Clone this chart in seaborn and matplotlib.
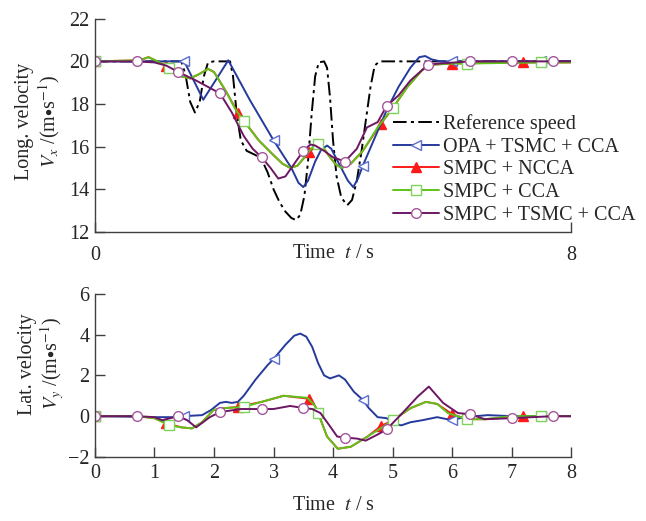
import matplotlib
matplotlib.use('Agg')
import matplotlib.pyplot as plt
from matplotlib.lines import Line2D
import seaborn as sns

# ---- top panel: longitudinal velocity (m/s) ----
ref_t = [0, 1.45, 1.52, 1.6, 1.68, 1.76, 1.83, 1.9, 2.0, 2.27, 2.32, 2.38, 2.45, 2.55, 2.7, 2.8,
         2.9, 3.0, 3.1, 3.2, 3.3, 3.38, 3.45, 3.52, 3.58, 3.64, 3.7, 3.76, 3.85, 3.9, 3.95, 4.0,
         4.06, 4.14, 4.24, 4.32, 4.4, 4.48, 4.56, 4.63, 4.7, 4.78, 8]
ref_vx = [20, 20, 19.4, 18.1, 17.6, 18.1, 19.3, 19.95, 20, 20, 19.3, 17.6, 16.3, 15.8, 15.6, 15.4,
          14.8, 14.0, 13.4, 12.95, 12.65, 12.55, 12.8, 13.7, 15.3, 17.5, 19.3, 19.95, 20, 19.7, 18.3, 16.3,
          14.6, 13.6, 13.25, 13.5, 14.4, 15.8, 17.4, 18.8, 19.8, 20, 20]

opa_t = [0, 1.5, 1.82, 2.24, 2.6, 3.0, 3.3, 3.42, 3.5, 3.58, 3.7, 3.8, 3.9, 3.97, 4.1, 4.25, 4.34,
         4.42, 4.5, 4.7, 4.9, 5.1, 5.3, 5.45, 5.55, 5.65, 5.8, 6.0, 7.5, 8]
opa_vx = [20, 20, 18.2, 20.05, 18.2, 16.3, 15.0, 14.3, 14.1, 14.4, 15.3, 15.85, 16.05, 15.9, 15.2, 14.4, 14.1,
          14.5, 15.1, 16.4, 17.7, 18.8, 19.7, 20.2, 20.25, 20.1, 20.0, 20.0, 20.0, 20.0]

ncca_t = [0, 0.75, 0.9, 1.05, 1.2, 1.45, 1.6, 1.75, 1.9, 2.0, 2.2, 2.4, 2.75, 3.0, 3.15, 3.28, 3.4,
          3.6, 3.75, 3.85, 3.95, 4.05, 4.15, 4.3, 4.5, 4.8, 5.0, 5.25, 5.5, 5.7, 6.0, 7.2, 8]
ncca_vx = [20, 20.05, 20.2, 20.0, 19.8, 19.3, 19.2, 19.4, 19.65, 19.5, 18.6, 17.6, 16.3, 15.6, 15.2, 15.0, 15.1,
           15.75, 16.1, 15.9, 15.5, 15.15, 15.0, 15.2, 15.8, 17.05, 17.8, 18.8, 19.6, 19.85, 19.9, 19.95, 19.95]

cca_t = [0, 0.75, 0.9, 1.05, 1.25, 1.45, 1.6, 1.75, 1.9, 2.0, 2.2, 2.35, 2.5, 2.75, 3.0, 3.15, 3.28,
         3.4, 3.55, 3.68, 3.75, 3.85, 3.95, 4.05, 4.15, 4.3, 4.5, 4.75, 5.0, 5.25, 5.5, 5.7, 6.0,
         6.25, 7.5, 8]
cca_vx = [20, 20.05, 20.2, 20.0, 19.7, 19.3, 19.2, 19.4, 19.65, 19.5, 18.6, 17.8, 17.2, 16.3, 15.6, 15.2, 15.0,
          15.1, 15.6, 16.05, 16.1, 15.9, 15.5, 15.15, 15.0, 15.2, 15.8, 16.9, 17.8, 18.8, 19.6, 19.85, 19.9,
          19.9, 19.95, 19.95]

tsmc_t = [0, 0.7, 1.0, 1.2, 1.4, 1.7, 2.1, 2.3, 2.5, 2.65, 2.8, 2.95, 3.08, 3.2, 3.35, 3.5, 3.62,
          3.7, 3.85, 4.0, 4.2, 4.4, 4.57, 4.75, 4.9, 5.1, 5.3, 5.6, 5.8, 6.3, 7.0, 7.7, 8]
tsmc_vx = [20, 20, 19.95, 19.8, 19.5, 19.1, 18.5, 17.6, 16.5, 15.9, 15.5, 15.0, 14.5, 14.6, 15.2, 15.8, 16.1,
           16.05, 15.8, 15.5, 15.3, 15.9, 16.9, 17.15, 17.9, 18.4, 19.1, 19.85, 19.9, 20.0, 20.0, 20.0, 20.0]

# ---- bottom panel: lateral velocity (m/s) ----
opa_lt = [0, 0.5, 1.0, 1.3, 1.5, 1.8, 1.95, 2.1, 2.2, 2.3, 2.4, 2.5, 2.7, 2.9, 3.0, 3.2, 3.35, 3.45,
          3.55, 3.65, 3.75, 3.85, 3.95, 4.1, 4.2, 4.35, 4.5, 4.6, 4.75, 4.9, 5.05, 5.15, 5.3, 5.5,
          5.75, 6.0, 6.2, 6.6, 7.0, 7.5, 8]
opa_vy = [0, -0.02, -0.05, -0.05, 0.0, 0.05, 0.3, 0.65, 0.7, 0.65, 0.7, 1.0, 1.8, 2.5, 2.8, 3.5, 3.95, 4.05,
          3.9, 3.4, 2.6, 2.0, 1.85, 2.0, 1.8, 1.2, 0.8, 0.4, -0.05, -0.1, -0.4, -0.45, -0.3, -0.2,
          -0.05, -0.2, -0.05, 0.05, 0.0, 0.0, 0.0]

ncca_lt = [0, 0.7, 1.0, 1.2, 1.45, 1.63, 1.8, 1.99, 2.2, 2.4, 2.8, 3.17, 3.6, 3.7, 3.75, 3.9, 4.08,
           4.3, 4.58, 4.8, 5.0, 5.31, 5.56, 5.75, 6.0, 6.25, 6.55, 7.2, 8]
ncca_vy = [0, 0.0, -0.1, -0.35, -0.55, -0.6, -0.3, 0.3, 0.4, 0.45, 0.7, 1.0, 0.85, 0.5, 0.15, -1.0, -1.6,
           -1.5, -1.0, -0.5, -0.2, 0.4, 0.7, 0.6, 0.1, -0.15, -0.15, 0.0, 0.0]

cca_lt = [0, 0.7, 1.0, 1.25, 1.45, 1.63, 1.8, 1.99, 2.2, 2.5, 2.8, 3.17, 3.57, 3.7, 3.75, 3.9, 4.08,
          4.3, 4.58, 4.8, 5.0, 5.31, 5.56, 5.75, 5.93, 6.25, 6.55, 7.0, 7.5, 8]
cca_vy = [0, 0.0, -0.1, -0.45, -0.55, -0.6, -0.3, 0.3, 0.4, 0.45, 0.7, 1.0, 0.9, 0.5, 0.15, -1.0, -1.6,
          -1.5, -1.0, -0.6, -0.2, 0.4, 0.7, 0.6, 0.15, -0.15, -0.15, 0.0, 0.0, 0.0]

tsmc_lt = [0, 0.7, 1.0, 1.13, 1.4, 1.55, 1.7, 1.93, 2.1, 2.45, 2.8, 3.0, 3.28, 3.5, 3.65, 3.79, 3.95,
           4.07, 4.2, 4.4, 4.55, 4.75, 4.9, 5.15, 5.42, 5.61, 5.85, 6.1, 6.3, 6.55, 7.0, 7.7, 8]
tsmc_vy = [0, 0.0, -0.05, -0.2, 0.0, -0.2, -0.55, -0.05, 0.2, 0.35, 0.35, 0.35, 0.5, 0.4, 0.35, 0.15, -0.5,
           -1.0, -1.05, -1.1, -1.2, -0.9, -0.65, 0.1, 0.95, 1.45, 0.65, 0.15, 0.1, -0.15, -0.1, 0.0, 0.0]

# marker times for each controller
opa_marks = [0, 1.5, 3.0, 4.5, 6.0, 7.5]
ncca_marks = [0, 1.2, 2.4, 3.6, 4.8, 6.0, 7.2]
cca_marks = [0, 1.25, 2.5, 3.75, 5.0, 6.25, 7.5]
tsmc_marks = [0, 0.7, 1.4, 2.1, 2.8, 3.5, 4.2, 4.9, 5.6, 6.3, 7.0, 7.7]

# Series configuration: (label, color, marker, marker edge, marker face), in drawing order
SERIES = [
    ('SMPC + NCCA', '#ff1a1a', '^', '#ff1a1a', '#ff1a1a'),
    ('OPA + TSMC + CCA', '#263a9c', '<', '#5a6ed0', 'white'),
    ('SMPC + CCA', '#5cc41a', 's', '#7fd35a', 'white'),
    ('SMPC + TSMC + CCA', '#6d1663', 'o', '#a4579c', 'white'),
]
LEGEND_ORDER = ['OPA + TSMC + CCA', 'SMPC + NCCA', 'SMPC + CCA', 'SMPC + TSMC + CCA']

TOP = {'SMPC + NCCA': (ncca_t, ncca_vx, ncca_marks), 'OPA + TSMC + CCA': (opa_t, opa_vx, opa_marks),
       'SMPC + CCA': (cca_t, cca_vx, cca_marks), 'SMPC + TSMC + CCA': (tsmc_t, tsmc_vx, tsmc_marks)}
BOTTOM = {'SMPC + NCCA': (ncca_lt, ncca_vy, ncca_marks), 'OPA + TSMC + CCA': (opa_lt, opa_vy, opa_marks),
          'SMPC + CCA': (cca_lt, cca_vy, cca_marks), 'SMPC + TSMC + CCA': (tsmc_lt, tsmc_vy, tsmc_marks)}

FS = 14.5
LW = 1.4
MS = 7
REF_DASH = (0, (7, 2.2, 1.6, 2.2))

sns.set_style('ticks')
plt.rcParams['font.family'] = ['Liberation Serif', 'DejaVu Serif']
plt.rcParams['mathtext.fontset'] = 'stix'


def plot_series(ax, series_data):
    for label, color, marker, mec, mfc in SERIES:
        t, v, marks = series_data[label]
        idx = [i for i, x in enumerate(t) if x in marks]
        sns.lineplot(x=t, y=v, ax=ax, color=color, lw=LW, marker=marker, markevery=idx,
                     ms=MS, mec=mec, mfc=mfc, mew=1.0, sort=False, estimator=None)


def style_axes(ax):
    sns.despine(ax=ax)
    for side in ['left', 'bottom']:
        ax.spines[side].set_color('#404040')
        ax.spines[side].set_linewidth(1.0)
    ax.tick_params(direction='in', length=7, width=1.0, color='#404040', labelsize=FS)


fig = plt.figure(figsize=(6.46, 5.21), dpi=100)
ax1 = fig.add_axes([0.147, 0.555, 0.737, 0.409])
ax2 = fig.add_axes([0.147, 0.123, 0.737, 0.313])

# top panel
sns.lineplot(x=ref_t, y=ref_vx, ax=ax1, color='black', lw=LW, linestyle=REF_DASH, sort=False, estimator=None)
plot_series(ax1, TOP)
ax1.set_xlim(0, 8)
ax1.set_ylim(12, 22)
ax1.set_xticks([0, 8])
ax1.set_yticks([12, 14, 16, 18, 20, 22])
style_axes(ax1)
ax1.tick_params(axis='x', pad=10)
ax1.tick_params(axis='y', pad=4)
ax1.set_xlabel(r'Time  $t$ / s', fontsize=FS)
ax1.xaxis.set_label_coords(0.5, -0.055)
ax1.set_ylabel('Long. velocity\n' + r'$V_x$ /(m$\bullet$s$^{-1}$)', fontsize=FS, linespacing=1.1)
ax1.yaxis.set_label_coords(-0.07, 0.52)

handles = [Line2D([0], [0], color='black', lw=LW, linestyle=REF_DASH, label='Reference speed')]
for name in LEGEND_ORDER:
    label, color, marker, mec, mfc = [s for s in SERIES if s[0] == name][0]
    handles.append(Line2D([0], [0], color=color, lw=LW, marker=marker, ms=MS, mec=mec, mfc=mfc,
                          mew=1.0, label=label))
ax1.legend(handles=handles, loc='upper left', bbox_to_anchor=(0.625, 0.553), frameon=False,
           fontsize=FS, handlelength=2.3, handletextpad=0.2, labelspacing=0.18,
           borderpad=0, borderaxespad=0)

# bottom panel
plot_series(ax2, BOTTOM)
ax2.set_xlim(0, 8)
ax2.set_ylim(-2, 6)
ax2.set_xticks(range(9))
ax2.set_yticks([-2, 0, 2, 4, 6])
ax2.set_yticklabels(['\u22122', '0', '2', '4', '6'])
style_axes(ax2)
ax2.tick_params(axis='x', pad=5)
ax2.tick_params(axis='y', pad=4)
ax2.set_xlabel(r'Time  $t$ / s', fontsize=FS)
ax2.xaxis.set_label_coords(0.5, -0.24)
ax2.set_ylabel('Lat. velocity\n' + r'$V_y$ /(m$\bullet$s$^{-1}$)', fontsize=FS, linespacing=1.1)
ax2.yaxis.set_label_coords(-0.06, 0.57)

fig.savefig('out.png', dpi=100)
